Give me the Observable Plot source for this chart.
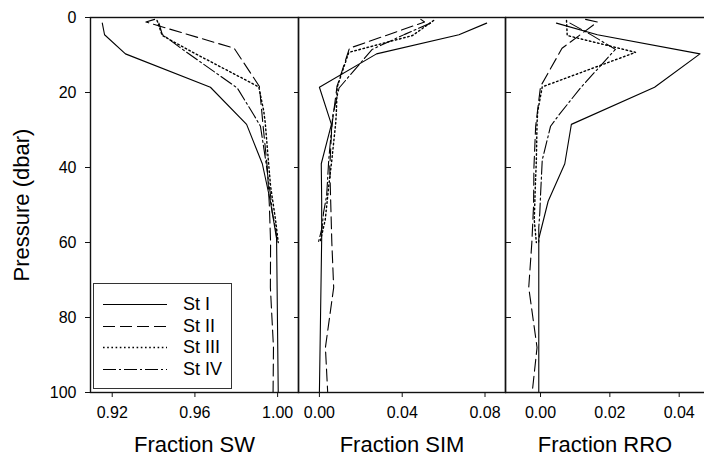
<!DOCTYPE html>
<html><head><meta charset="utf-8">
<script src="https://cdn.jsdelivr.net/npm/d3@7"></script>
<script src="https://cdn.jsdelivr.net/npm/@observablehq/plot@0.6"></script>
<style>
body{margin:0;background:#fff;overflow:hidden}
#chart{position:relative;width:704px;height:464px;overflow:hidden;font-family:"Liberation Sans",Arial,Helvetica,sans-serif}
#chart svg.panel{position:absolute;top:0}
#legend{position:absolute;left:93px;top:283px;width:137px;height:104px;border:1.5px solid #333;background:#fff}
#legend .row{position:absolute;left:0;height:20px;width:137px}
#legend svg{position:absolute;left:9px;top:9px}
#legend span{position:absolute;left:89px;top:0;font-size:18px;line-height:20px;color:#000}
</style></head><body><div id="chart"></div>
<script>
// ---- data ----
const stations = ["St I", "St II", "St III", "St IV"];

const depthI = [1.5, 4.6, 9.7, 18.6, 28.5, 39, 49, 59, 100];
const swI    = [0.9152, 0.9163, 0.9264, 0.9675, 0.985, 0.9926, 0.9965, 0.9995, 1.0003];
const simI   = [0.0808, 0.0674, 0.0276, 0.0, 0.0058, 0.0009, 0.0011, 0.0011, 0.0];
const rroI   = [0.0046, 0.0164, 0.046, 0.0329, 0.0089, 0.007, 0.0022, -0.0005, -0.0005];

const depthII = [0.5, 1.2, 8.2, 18.4, 29, 40, 50, 60, 72, 88, 100];
const swII    = [0.9405, 0.9363, 0.979, 0.9912, 0.993, 0.995, 0.996, 0.9966, 0.9965, 0.998, 0.9978];
const simII   = [0.049, 0.0508, 0.0145, 0.0085, 0.006, 0.005, 0.0055, 0.006, 0.0069, 0.0029, 0.004];
const rroII   = [0.013, 0.0164, 0.0062, 0.0, -0.0014, -0.0019, -0.002, -0.0025, -0.0034, -0.001, -0.0024];

const depthIII = [0.8, 4.8, 9.3, 18.5, 25, 28, 38, 45, 54, 60];
const swIII    = [0.9417, 0.9442, 0.959, 0.9909, 0.9933, 0.994, 0.9955, 0.9966, 0.999, 1.0003];
const simIII   = [0.0552, 0.045, 0.0142, 0.0086, 0.0082, 0.0079, 0.006, 0.0045, 0.0028, 0.0003];
const rroIII   = [0.0075, 0.0077, 0.0274, 0.0005, -0.0008, -0.001, -0.0012, -0.0015, -0.0018, -0.0012];

const depthIV = [1.5, 4.5, 8.5, 18.8, 26, 29, 38, 47.5, 52, 56, 60];
const swIV    = [0.9426, 0.9442, 0.954, 0.9805, 0.9885, 0.9917, 0.9942, 0.9966, 0.9974, 0.999, 0.9998];
const simIV   = [0.0537, 0.0412, 0.0255, 0.0095, 0.0065, 0.006, 0.0045, 0.0035, 0.002, 0.0013, -0.0005];
const rroIV   = [0.0085, 0.0144, 0.0216, 0.0115, 0.0053, 0.0029, 0.0005, 0.0, -0.0002, -0.0005, -0.0005];

const pressureTicks = [0, 20, 40, 60, 80, 100];
const swTicks  = [0.92, 0.96, 1.00];
const simTicks = [0.00, 0.04, 0.08];
const rroTicks = [0.00, 0.02, 0.04];
const fractionTitles = ["Fraction SW", "Fraction SIM", "Fraction RRO"];
const yTitle = "Pressure (dbar)";

// ---- build table ----
const series = [
  [depthI, swI, simI, rroI],
  [depthII, swII, simII, rroII],
  [depthIII, swIII, simIII, rroIII],
  [depthIV, swIV, simIV, rroIV]
];
const rows = [];
series.forEach(([d, sw, sim, rro], k) => {
  d.forEach((p, i) => rows.push({station: stations[k], depth: p, sw: sw[i], sim: sim[i], rro: rro[i]}));
});

const dashes = [null, "12,5", "1.6,2.6", "13,3,2,3"];
const widths = [1.1, 1.1, 1.4, 1.1];
const FONT = '"Liberation Sans", Arial, Helvetica, sans-serif';
const INK = "#111";

function lineMarks(field) {
  return stations.map((s, k) => Plot.line(rows.filter(r => r.station === s), {
    x: field, y: "depth", stroke: "#000", strokeWidth: widths[k],
    strokeDasharray: dashes[k] || undefined
  }));
}

function panel({field, domain, ticks, title, width, marginLeft, left, which}) {
  const marks = [...lineMarks(field)];
  if (which === 3) {
    marks.push(Plot.ruleY([0, 100], {stroke: INK, strokeWidth: 1.4}));
    marks.push(Plot.ruleX([domain[0]], {stroke: INK, strokeWidth: 1.4}));
    marks.push(Plot.axisY({anchor: "left", ticks: pressureTicks, tickSize: 6, dx: 6, tickFormat: () => "", label: null, stroke: INK}));
  } else {
    marks.push(Plot.frame({stroke: INK, strokeWidth: 1.4}));
  }
  if (which === 1) {
    marks.push(Plot.axisY({anchor: "left", ticks: pressureTicks, tickSize: 5, tickPadding: 9, fontSize: 16, label: null, stroke: INK}));
    marks.push(Plot.axisY({anchor: "right", ticks: pressureTicks, tickSize: 5, dx: -5, tickFormat: () => "", label: null, stroke: INK}));
    marks.push(Plot.text([yTitle], {frameAnchor: "left", textAnchor: "middle", dx: -69, rotate: -90, fontSize: 22, fill: "#000"}));
  }
  marks.push(Plot.axisX({ticks, tickFormat: d3.format(".2f"), tickSize: 5, tickPadding: 9, fontSize: 16, label: null, stroke: INK}));
  marks.push(Plot.text([title], {frameAnchor: "bottom", dy: 59, fontSize: 22, fill: "#000"}));
  const svg = Plot.plot({
    width, height: 464,
    marginLeft, marginRight: 0, marginTop: 17, marginBottom: 72,
    style: {fontFamily: FONT, background: "transparent", overflow: "visible", color: "#000"},
    x: {domain, axis: null},
    y: {domain: [0, 100], reverse: true, axis: which === 2 ? null : undefined},
    marks
  });
  svg.classList.add("panel");
  svg.style.left = left + "px";
  return svg;
}

const chart = document.getElementById("chart");
chart.appendChild(panel({field: "sw", domain: [0.9095, 1.0101], ticks: swTicks, title: fractionTitles[0], width: 298, marginLeft: 90, left: 0, which: 1}));
chart.appendChild(panel({field: "sim", domain: [-0.0101, 0.0899], ticks: simTicks, title: fractionTitles[1], width: 207, marginLeft: 0, left: 298, which: 2}));
chart.appendChild(panel({field: "rro", domain: [-0.0101, 0.0473], ticks: rroTicks, title: fractionTitles[2], width: 199, marginLeft: 0, left: 505, which: 3}));

// ---- legend ----
const legend = document.createElement("div");
legend.id = "legend";
stations.forEach((s, k) => {
  const row = document.createElement("div");
  row.className = "row";
  row.style.top = (10 + k * 21.7) + "px";
  const ns = "http://www.w3.org/2000/svg";
  const sv = document.createElementNS(ns, "svg");
  sv.setAttribute("width", "66"); sv.setAttribute("height", "3");
  sv.style.top = "9px";
  const ln = document.createElementNS(ns, "line");
  ln.setAttribute("x1", "0"); ln.setAttribute("x2", "64");
  ln.setAttribute("y1", "1.5"); ln.setAttribute("y2", "1.5");
  ln.setAttribute("stroke", "#000"); ln.setAttribute("stroke-width", String(widths[k]));
  if (dashes[k]) ln.setAttribute("stroke-dasharray", dashes[k]);
  sv.appendChild(ln);
  const sp = document.createElement("span");
  sp.textContent = s;
  row.appendChild(sv); row.appendChild(sp);
  legend.appendChild(row);
});
chart.appendChild(legend);
</script></body></html>
